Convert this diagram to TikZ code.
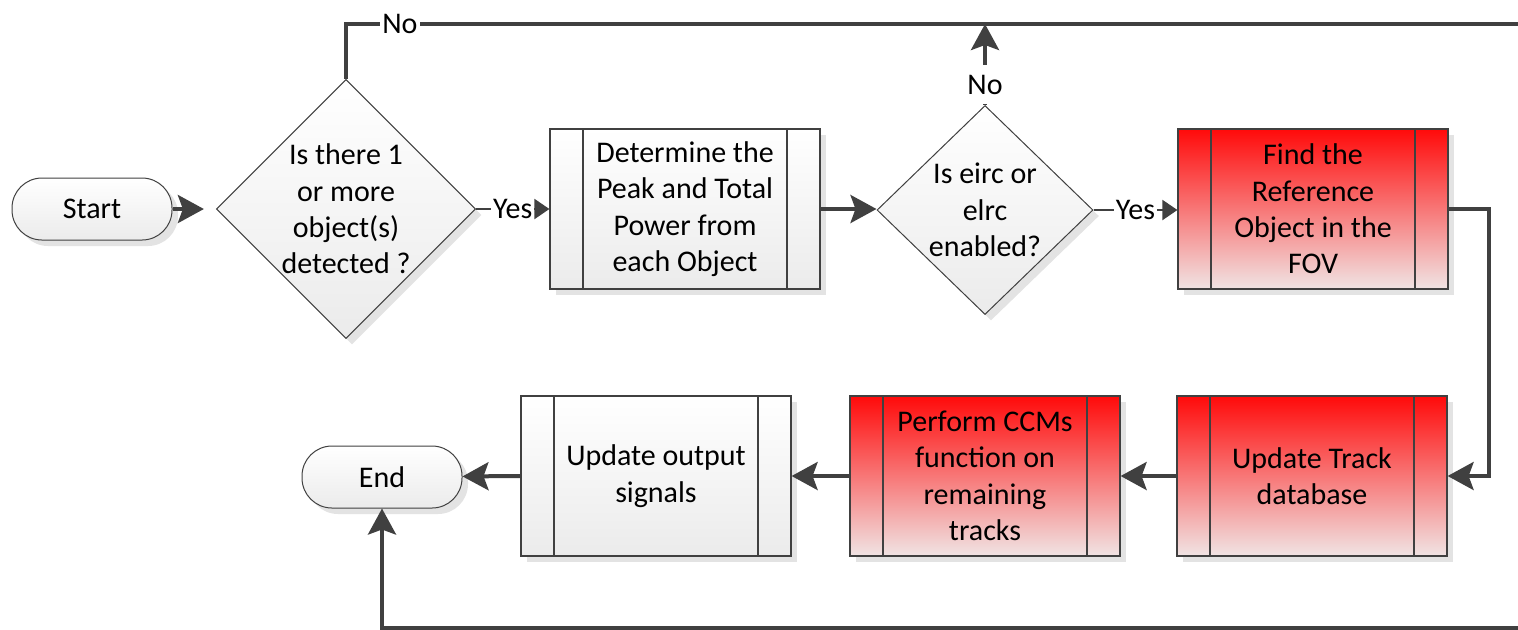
\documentclass[tikz,border=0pt]{standalone}
\usepackage{fontspec}
\setmainfont{Carlito}
\usetikzlibrary{arrows.meta,shapes.geometric,shadows}
\definecolor{linegray}{HTML}{404040}
\definecolor{boxred}{HTML}{FF0A0A}
\definecolor{boxpale}{HTML}{F0E4E4}
\definecolor{boxgray}{HTML}{EBEBEB}

\begin{document}
\begin{tikzpicture}[x=0.5pt,y=-0.5pt,font=\fontsize{15}{18.2}\selectfont,
  shadowed/.style={drop shadow={shadow xshift=3pt,shadow yshift=-3pt,fill=black!11,opacity=1}},
  end node/.style={rectangle,rounded corners=15pt,draw=linegray,line width=0.5pt,top color=white,bottom color=boxgray,shadowed,minimum width=80pt,minimum height=31pt},
  test node/.style={diamond,aspect=1,inner sep=0pt,draw=linegray,line width=0.5pt,top color=white,bottom color=boxgray,shadowed,align=center},
  proc node/.style={rectangle,draw=linegray,line width=0.6pt,shadowed,align=center,minimum width=135pt,minimum height=80pt,
    path picture={\draw[linegray,line width=0.6pt]
      ([xshift=16.5pt]path picture bounding box.north west) -- ([xshift=16.5pt]path picture bounding box.south west)
      ([xshift=-16.5pt]path picture bounding box.north east) -- ([xshift=-16.5pt]path picture bounding box.south east);}},
  grey proc/.style={proc node,top color=white,bottom color=boxgray},
  red proc/.style={proc node,top color=boxred,bottom color=boxpale},
  flow/.style={draw=linegray,line width=2pt},
  flow arrow/.style={flow,-{Stealth[length=13pt,width=14pt,inset=2.5pt]}},
  yes arrow/.style={draw=linegray,line width=1pt,-{Triangle[length=7.5pt,width=10pt]}},
  tag/.style={fill=white,inner xsep=1pt,inner ysep=1pt}]
  \useasboundingbox (0,0) rectangle (1518,629);

  \node[end node] (1) at (92,209) {Start};
  \node[test node,minimum width=129pt,minimum height=128pt] (2) at (346,209) {Is there 1\\or more\\object(s)\\detected ?};
  \node[grey proc] (3) at (685,209) {Determine the\\Peak and Total\\Power from\\each Object};
  \node[test node,minimum width=108pt,minimum height=104.5pt] (4) at (985,210) {Is eirc or\\elrc\\enabled?};
  \node[red proc] (5) at (1313,209) {Find the\\Reference\\Object in the\\FOV};
  \node[red proc] (6) at (1312,476) {Update Track\\database};
  \node[red proc] (7) at (985,476) {Perform CCMs\\function on\\remaining\\tracks};
  \node[grey proc] (8) at (656,476) {Update output\\signals};
  \node[end node] (9) at (382,477) {End};
  \coordinate (10) at (1518,24);
  \coordinate (11) at (1518,628);

  \path
    (1.east) edge[flow arrow,shorten >=6pt] (1.east -| 2.west)
    (2.east) edge[yes arrow] node[tag] {Yes} (3.west)
    (4.east) edge[yes arrow] node[tag] {Yes} (4.east -| 5.west)
    (3.east) edge[flow arrow] (3.east -| 4.west)
    (6.west) edge[flow arrow] (6.west -| 7.east)
    (7.west) edge[flow arrow] (7.west -| 8.east)
    (8.west) edge[flow arrow] (9);
  \draw[flow arrow] (5.east) -- ++(40,0) |- (6.east);
  \draw[flow] (2) |- node[tag,pos=0.523] {No} (10);
  \draw[flow arrow] (4) -- node[tag,pos=0.25,inner ysep=5pt] {No} (4 |- 10);
  \draw[flow arrow] (11) -| (9);
\end{tikzpicture}
\end{document}
